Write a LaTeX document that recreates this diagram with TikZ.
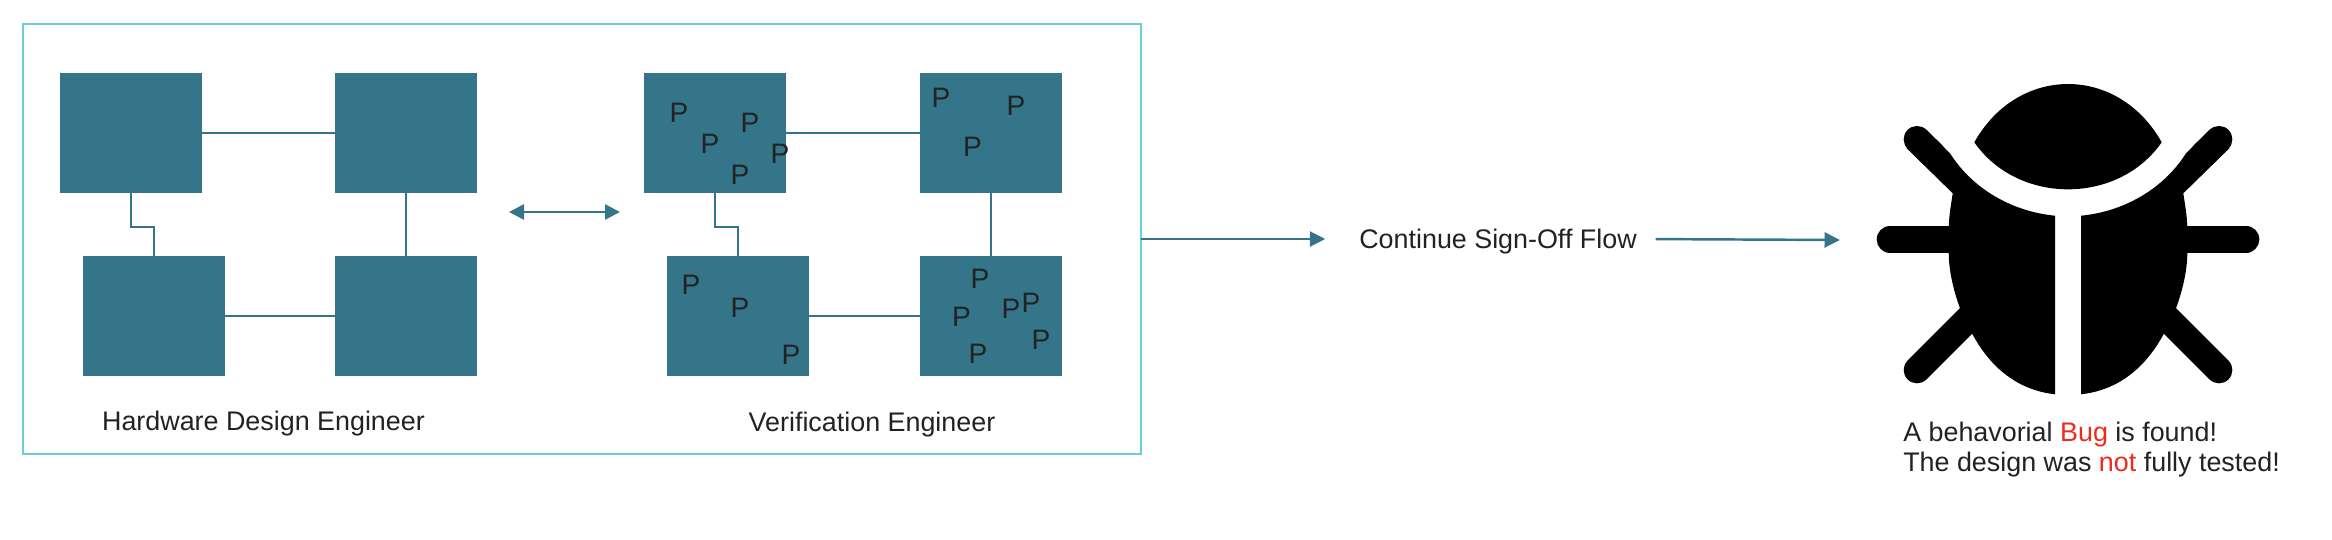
\documentclass[tikz,border=0pt]{standalone}
\usepackage{fontspec}
\setmainfont{Liberation Sans}
\usetikzlibrary{arrows.meta,positioning}
\definecolor{chipteal}{HTML}{35758A}
\definecolor{framecyan}{HTML}{6BCDD6}
\definecolor{labelgray}{HTML}{222222}
\definecolor{bugred}{HTML}{EE2A1E}

\begin{document}
\begin{tikzpicture}[
  x=0.02cm, y=-0.02cm,
  node distance=1.26cm and 2.66cm,
  chip/.style={fill=chipteal, inner sep=0pt, outer sep=0pt, minimum width=2.84cm, minimum height=2.4cm},
  outerbox/.style={draw=framecyan, line width=1.5pt, inner sep=0pt, outer sep=0pt, minimum width=22.36cm, minimum height=8.6cm},
  wire/.style={draw=chipteal, line width=0.7pt},
  flowarrow/.style={draw=chipteal, line width=1.4pt, -{Triangle[length=0.31cm, width=0.3cm, fill=chipteal]}},
  swaparrow/.style={draw=chipteal, line width=1.5pt, {Triangle[length=0.3cm, width=0.3cm, fill=chipteal]}-{Triangle[length=0.3cm, width=0.3cm, fill=chipteal]}},
  caption/.style={font=\fontsize{15.3}{16.9}\selectfont, text=labelgray, inner sep=0pt, outer sep=0pt, text depth=0pt},
  pmark/.style={font=\fontsize{16}{16}\selectfont, text=labelgray, inner sep=0pt}
]
\useasboundingbox (0,0) rectangle (2332,540);
\node[outerbox] (frame) at (582,239) {};
\node[chip] (hw1) at (131,133) {};
\node[chip, right=of hw1] (hw2) {};
\node[chip, below=of hw1, xshift=0.46cm] (hw3) {};
\node[chip, below=of hw2] (hw4) {};
\node[chip] (ver1) at (715,133) {};
\node[chip, right=2.68cm of ver1] (ver2) {};
\node[chip, below=of ver1, xshift=0.46cm] (ver3) {};
\node[chip, below=of ver2] (ver4) {};
\draw[wire] (hw1.east) -- (hw2.west);
\draw[wire] (hw3.east) -- (hw4.west);
\draw[wire] (hw2.south) -- (hw4.north);
\draw[wire] (hw1.south) -- ++(0,34) -| (hw3.north);
\draw[wire] (ver1.east) -- (ver2.west);
\draw[wire] (ver3.east) -- (ver4.west);
\draw[wire] (ver2.south) -- (ver4.north);
\draw[wire] (ver1.south) -- ++(0,34) -| (ver3.north);
\foreach \px/\py [count=\i] in {679/113,710/144,750/123,780/154,740/175,
    941/98,1016/106,972.5/147,
    691/285,740/308,791/355,
    980/279,961.4/317,1011/309,1031/303,1041/340,978/354}
  \node[pmark] (pin\i) at (\px,\py) {P};
\coordinate (swapleft) at (509,212);
\coordinate (swapright) at (620,212);
\draw[swaparrow] (swapleft) -- (swapright);
\node[caption] (hwlabel) at (263.5,421) {Hardware Design Engineer};
\node[caption] (verlabel) at (872,422) {Verification Engineer};
\node[caption] (flow) at (1498,239) {Continue Sign-Off Flow};
\coordinate (bugin) at (1840,240);
\draw[flowarrow, shorten >=0.68cm] (frame.east) -- (flow.west);
\draw[flowarrow, shorten <=0.38cm] (flow.east) -- (bugin);
\fill[black] (1974.3,142.3) .. controls (2018,64.6) and (2118,64.6) .. (2161.7,142.3)
  .. controls (2118,205) and (2018,205) .. cycle;
\foreach \s in {1,-1}{
  \begin{scope}[shift={(2068,0)}, xscale=\s]
    \fill[black] (-13,215.7) -- (-13,394.3) .. controls (-51.3,390) and (-78,366.7) .. (-95.7,334)
      -- (-108,308.3) .. controls (-114.7,290) and (-119.3,270) .. (-119.3,252.7)
      -- (-119.3,226.7) .. controls (-118.7,213) and (-117,205) .. (-115.3,193.3)
      -- (-161.3,148.3) -- (-142,129.3) -- (-118,153.3)
      .. controls (-94.7,190) and (-54.7,211.7) .. cycle;
    \draw[black, line width=0.533cm, line cap=round] (-151,139.3) -- (-135,155);
    \draw[black, line width=0.533cm, line cap=round] (-178,239.3) -- (-110,239.3);
    \draw[black, line width=0.533cm, line cap=round] (-151,370) -- (-95,314);
  \end{scope}
}
\node[caption, align=left] (buglabel) at (2091.5,447) {A behavorial \textcolor{bugred}{Bug} is found!\\The design was \textcolor{bugred}{not} fully tested!};
\end{tikzpicture}
\end{document}
